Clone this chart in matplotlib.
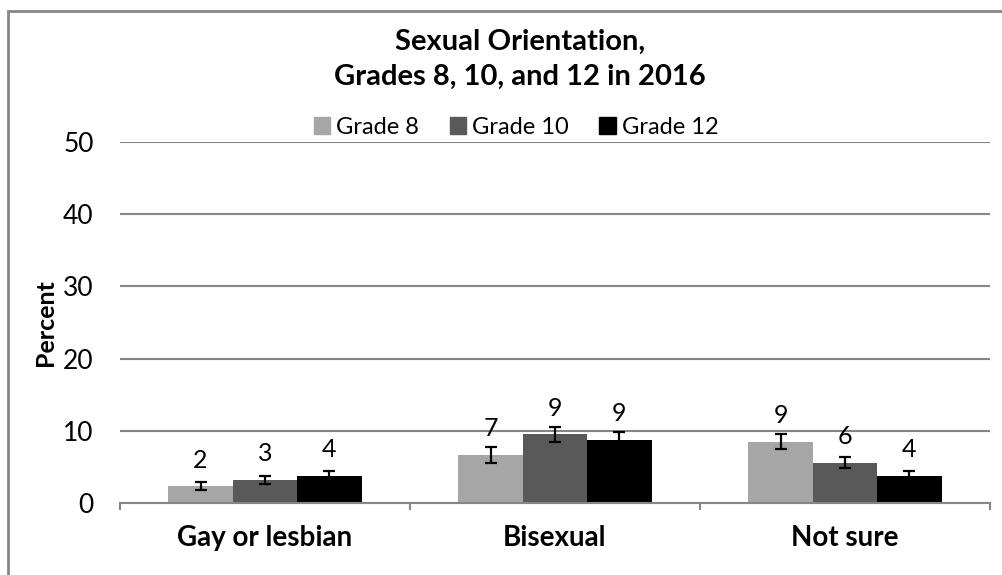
import matplotlib.pyplot as plt
from matplotlib.patches import Patch, Rectangle
import numpy as np

plt.rcParams['font.family'] = ['Lato', 'DejaVu Sans']

categories = ["Gay or lesbian", "Bisexual", "Not sure"]
grades = ["Grade 8", "Grade 10", "Grade 12"]
colors = ["#A6A6A6", "#595959", "#000000"]

grade8 = [2.3, 6.7, 8.5]
grade10 = [3.2, 9.5, 5.6]
grade12 = [3.7, 8.7, 3.8]
err8 = [0.55, 1.1, 1.05]
err10 = [0.6, 1.05, 0.75]
err12 = [0.7, 1.2, 0.7]
labels8 = ["2", "7", "9"]
labels10 = ["3", "9", "6"]
labels12 = ["4", "9", "4"]

values = [grade8, grade10, grade12]
errors = [err8, err10, err12]
labels = [labels8, labels10, labels12]

W, H = 1003, 575
fig = plt.figure(figsize=(W / 100, H / 100), dpi=100)
ax = fig.add_axes([120 / W, (H - 503) / H, 870 / W, 361 / H])

fs = 19
gray = "#868686"
x = np.arange(len(categories)) + 0.5
width = 0.222

for i in range(3):
    pos = x + (i - 1) * width
    ax.bar(pos, values[i], width, color=colors[i], zorder=2)
    ax.errorbar(pos, values[i], yerr=errors[i], fmt="none", ecolor="black",
                elinewidth=1.6, capsize=4, capthick=1.6, zorder=3)
    for p, v, t in zip(pos, values[i], labels[i]):
        ax.annotate(t, (p, v), xytext=(0, 19), textcoords="offset points",
                    ha="center", va="center", fontsize=18)

ax.set_xlim(0, 3)
ax.set_ylim(0, 50)
ax.set_yticks(range(0, 51, 10))
ax.yaxis.grid(True, color=gray, linewidth=1.5, zorder=0)
ax.set_axisbelow(True)
ax.tick_params(axis="y", length=0, labelsize=fs, pad=19)

ax.set_xticks([0, 1, 2, 3])
ax.set_xticklabels([])
ax.tick_params(axis="x", which="major", direction="out", length=5, width=1.5, color=gray)
ax.set_xticks(x, minor=True)
ax.set_xticklabels(categories, minor=True, fontweight="bold", fontsize=20)
ax.tick_params(axis="x", which="minor", length=0, pad=16)

for s in ["top", "right", "left"]:
    ax.spines[s].set_visible(False)
ax.spines["bottom"].set_color(gray)
ax.spines["bottom"].set_linewidth(1.5)

ax.set_ylabel("Percent", fontweight="bold", fontsize=18)
ax.yaxis.set_label_coords(-63 / 870, 0.5)

fig.text(520 / W, 1 - 42 / H, "Sexual Orientation,", ha="center", va="center",
         fontsize=21, fontweight="bold")
fig.text(520 / W, 1 - 77 / H, "Grades 8, 10, and 12 in 2016", ha="center", va="center",
         fontsize=21, fontweight="bold")

handles = [Patch(color=c) for c in colors]
fig.legend(handles, grades, loc="center", bbox_to_anchor=(516 / W, 1 - 127 / H),
           ncol=3, frameon=False, fontsize=17, handlelength=0.7, handleheight=0.7,
           handletextpad=0.25, columnspacing=1.3, borderpad=0)

fig.patches.append(Rectangle((8 / W, -0.1), 1.2, 1.1 - 11 / H, transform=fig.transFigure,
                             fill=False, edgecolor=gray, linewidth=2))

fig.savefig("out.png", dpi=100)
